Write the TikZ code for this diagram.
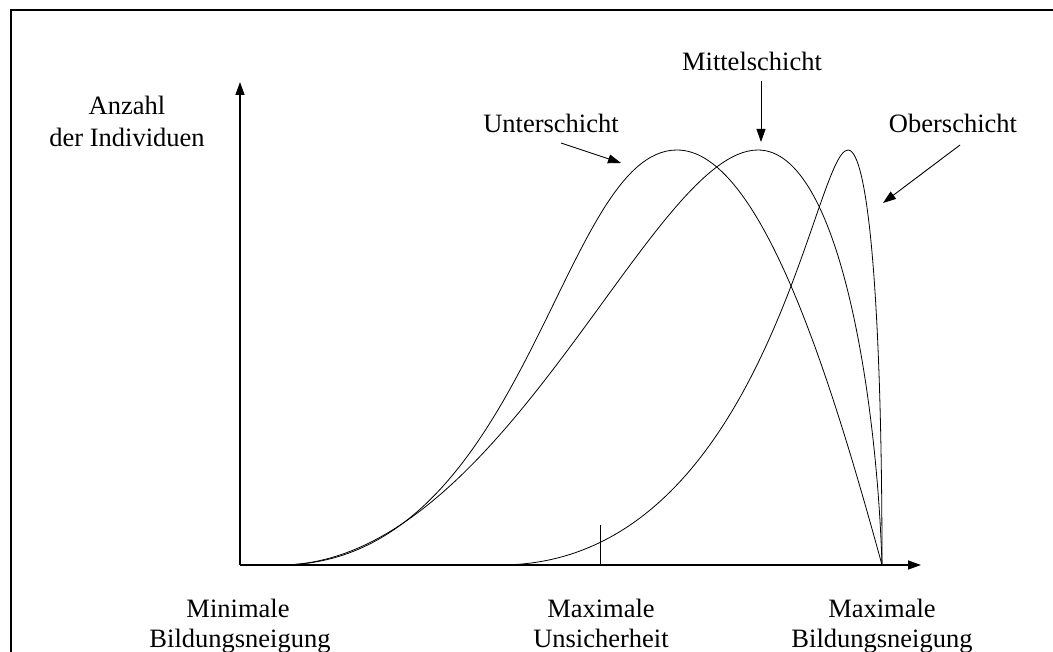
\documentclass[tikz,border=0pt]{standalone}
\usepackage{fontspec}
\setmainfont{Liberation Serif}
\usetikzlibrary{arrows.meta}
\begin{document}
\begin{tikzpicture}[x=1pt,y=-1pt,
  lbl/.style={anchor=base,inner sep=0pt,font=\fontsize{26.5}{32}\selectfont},
  axis/.style={line width=1.3pt,-{Triangle[length=13pt,width=9pt]}},
  pointer/.style={line width=0.9pt,-{Triangle[length=13pt,width=9pt]}},
  curve/.style={line width=0.8pt}]
\useasboundingbox (0,0) rectangle (1053,652);
% frame
\draw[line width=2pt] (11,660) -- (11,10) -- (1060,10);
% axes
\coordinate (O) at (240,565);
\coordinate (ytip) at (240,82);
\coordinate (xtip) at (921,565);
\coordinate (tickb) at (600,565);
\coordinate (tickt) at (600,525);
\coordinate (E) at (882,565);
\draw[axis] (O) -- (ytip);
\draw[axis] (O) -- (xtip);
\draw[line width=0.8pt] (tickb) -- (tickt);
% curves
\coordinate (us0) at (280,565);
\coordinate (up) at (677,150);
\coordinate (mp) at (758,150);
\coordinate (os0) at (500,565);
\coordinate (op) at (848,150);
\draw[curve] (us0) .. controls (527,565) and (559,150) .. (up)
  .. controls (760,150) and (830,375) .. (E);
\draw[curve] (us0) .. controls (503,565) and (650,150) .. (mp)
  .. controls (840,150) and (877,400) .. (E);
\draw[curve] (os0) .. controls (765,565) and (814,150) .. (op)
  .. controls (868,150) and (882,300) .. (E);
% labels
\node[lbl] (anz1) at (127,115) {Anzahl};
\node[lbl] (anz2) at (127,147) {der Individuen};
\node[lbl] (unter) at (551,133) {Unterschicht};
\node[lbl] (mittel) at (752,71) {Mittelschicht};
\node[lbl] (ober) at (953,133) {Oberschicht};
\node[lbl] (min1) at (238,617) {Minimale};
\node[lbl] (min2) at (240,647) {Bildungsneigung};
\node[lbl] (mu1) at (601,617) {Maximale};
\node[lbl] (mu2) at (601,647) {Unsicherheit};
\node[lbl] (mb1) at (882,617) {Maximale};
\node[lbl] (mb2) at (882,647) {Bildungsneigung};
% pointers
\coordinate (us) at (561,143);
\coordinate (ut) at (621,163);
\coordinate (ms) at (761,81);
\coordinate (mt) at (761,142);
\coordinate (os) at (960,145);
\coordinate (ot) at (883,203);
\draw[pointer] (us) -- (ut);
\draw[pointer] (ms) -- (mt);
\draw[pointer] (os) -- (ot);
\end{tikzpicture}
\end{document}
